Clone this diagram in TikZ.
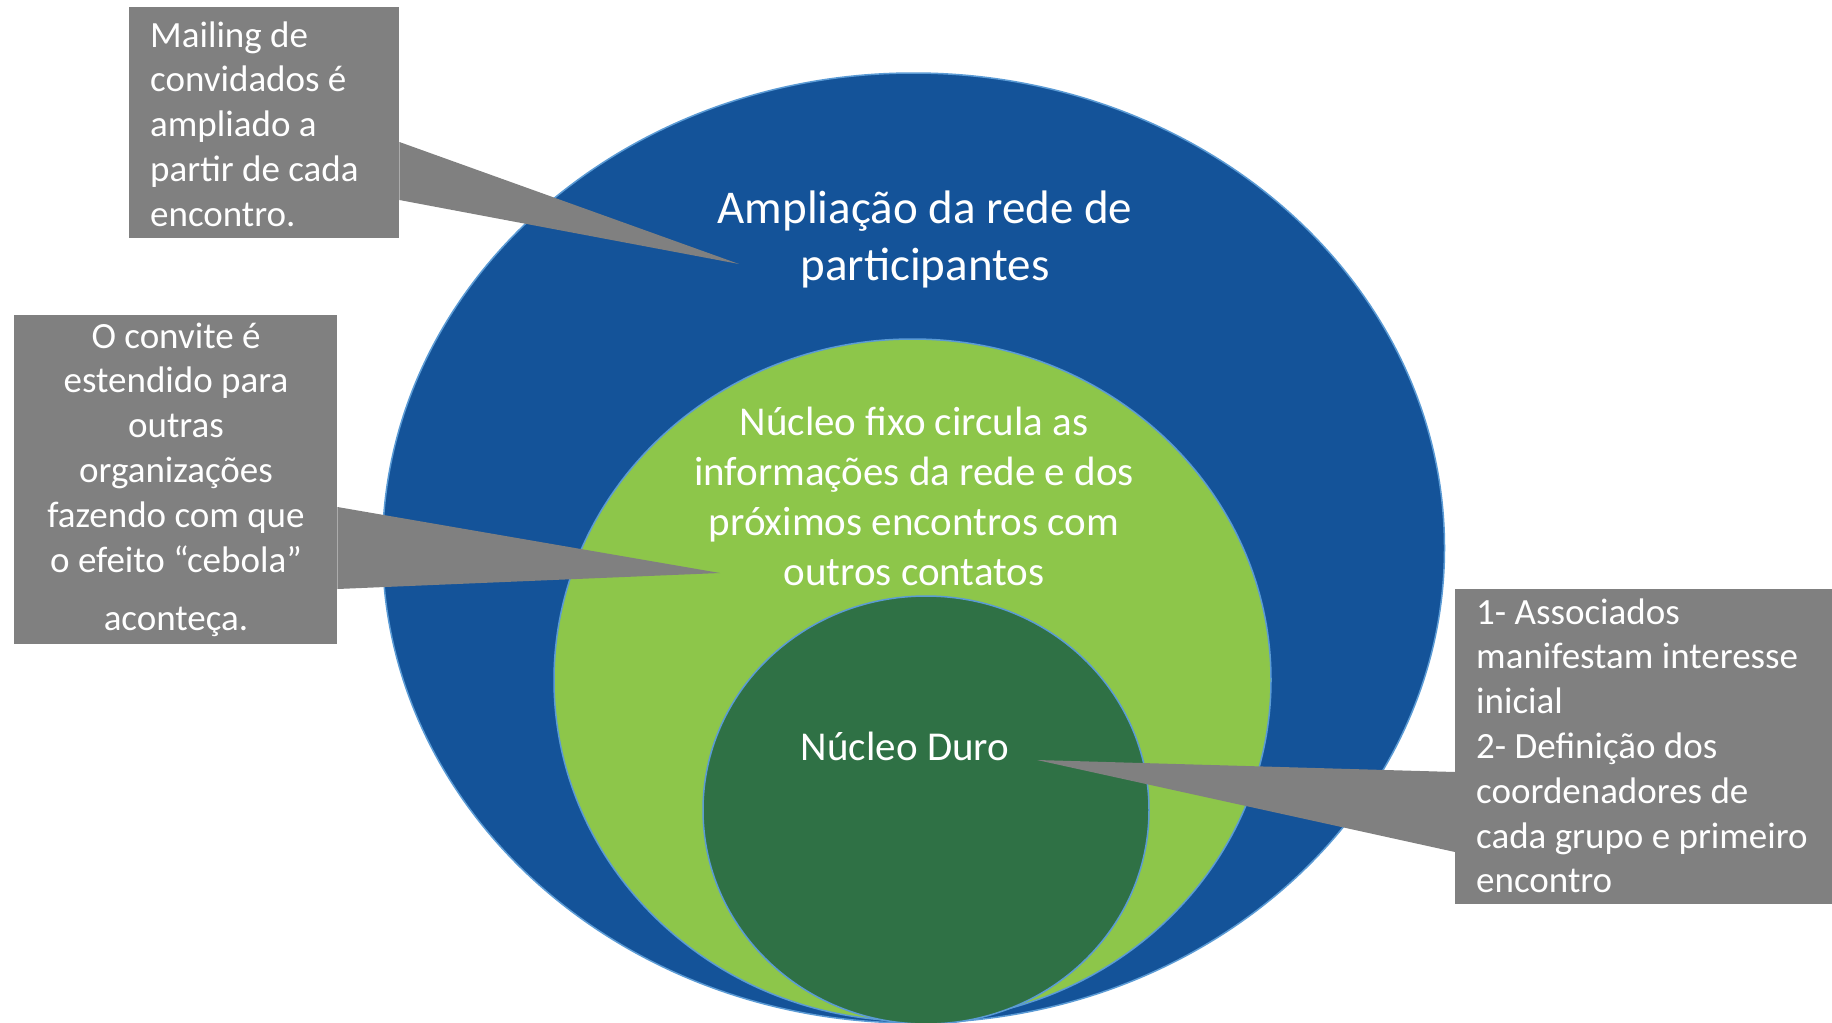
\documentclass[tikz,border=0pt]{standalone}
\usepackage{fontspec}
\setmainfont{Carlito}
\usetikzlibrary{shapes.geometric}
\definecolor{outerblue}{RGB}{20,83,153}
\definecolor{midgreen}{RGB}{141,198,74}
\definecolor{coregreen}{RGB}{47,113,69}
\definecolor{rimblue}{RGB}{91,155,213}
\definecolor{callgray}{RGB}{128,128,128}
\begin{document}
\begin{tikzpicture}[x=1pt,y=-1pt,
  ring/.style={ellipse, draw=rimblue, line width=1.5pt, inner sep=0pt},
  callbox/.style={rectangle, fill=callgray, inner sep=0pt, anchor=north west},
  calltip/.style={fill=callgray},
  calltext/.style={text=white, inner sep=0pt, font=\fontsize{37}{44.8}\selectfont},
  ringtext/.style={text=white, inner sep=0pt, align=flush center}
]
\useasboundingbox (0,0) rectangle (1832,1023);
\fill[white] (0,0) rectangle (1832,1023);

% rings
\node[ring, fill=outerblue, minimum width=1062pt, minimum height=950pt] (outer) at (913.5,548) {};
\node[ring, fill=midgreen, minimum width=717pt, minimum height=682pt] (middle) at (912.5,680) {};
\node[ring, fill=coregreen, minimum width=446pt, minimum height=428pt] (core) at (926,810) {};

% ring texts
\node[ringtext, text width=520pt, anchor=base, font=\fontsize{47}{57}\selectfont] (outertxt) at (925,223)
  {Ampliação da rede de\\participantes};
\node[ringtext, text width=540pt, anchor=base, font=\fontsize{41}{50}\selectfont] (middletxt) at (914,435)
  {Núcleo fixo circula as\\informações da rede e dos\\próximos encontros com\\outros contatos};
\node[ringtext, anchor=base, font=\fontsize{41}{50}\selectfont] (coretxt) at (905,760) {Núcleo Duro};

% callout 1
\coordinate (tip1) at (739,264);
\node[callbox, minimum width=270pt, minimum height=231pt] (c1) at (129,7) {};
\fill[calltip] (c1.north east |- 0,142) -- (tip1) -- (c1.north east |- 0,200) -- cycle;
\node[calltext, text width=245pt, align=flush left, anchor=base west] (c1txt) at (150,47)
  {Mailing de\\convidados é\\ampliado a\\partir de cada\\encontro.};

% callout 2
\coordinate (tip2) at (720,573);
\node[callbox, minimum width=323pt, minimum height=329pt] (c2) at (14,315) {};
\fill[calltip] (c2.north east |- 0,507) -- (tip2) -- (c2.north east |- 0,589) -- cycle;
\node[calltext, text width=310pt, align=flush center, anchor=base] (c2txt) at (176,348)
  {O convite é\\estendido para\\outras\\organizações\\fazendo com que\\o efeito “cebola”\\[14pt]aconteça.};

% callout 3
\coordinate (tip3) at (1037,760);
\node[callbox, minimum width=377pt, minimum height=315pt] (c3) at (1455,589) {};
\fill[calltip] (c3.north west |- 0,772) -- (tip3) -- (c3.north west |- 0,852) -- cycle;
\node[calltext, text width=350pt, align=flush left, anchor=base west] (c3txt) at (1476,624)
  {1- Associados\\manifestam interesse\\inicial\\2- Definição dos\\coordenadores de\\cada grupo e primeiro\\encontro};
\end{tikzpicture}
\end{document}
